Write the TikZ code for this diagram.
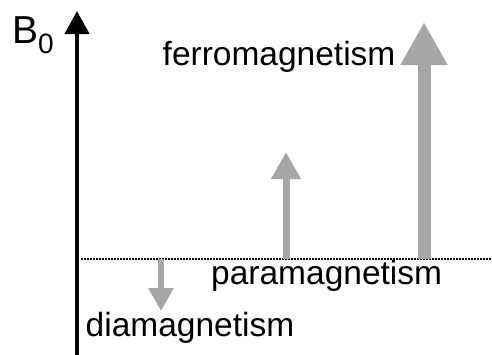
\documentclass[tikz,border=0pt]{standalone}
\usepackage{fontspec}
\setmainfont{Liberation Sans}
\usetikzlibrary{arrows.meta}
\definecolor{arrgray}{HTML}{A6A6A6}
\tikzset{
  lbl/.style={inner sep=0pt, anchor=base west, font=\fontsize{33.5}{36}\selectfont},
  axis/.style={line width=4.3pt, black, -{Triangle[width=24pt,length=23pt]}},
  field/.style={color=arrgray},
  zeroline/.style={line width=1.5pt, dash pattern=on 1.5pt off 1.5pt, black}
}
\begin{document}
\begin{tikzpicture}[x=1pt,y=-1pt]
\useasboundingbox (0,0) rectangle (492,354);
% axis
\coordinate (axb) at (77,356);
\coordinate (axt) at (77,11);
\draw[axis] (axb) -- (axt);
\node[lbl, font=\fontsize{39}{40}\selectfont] (B0) at (12,43) {B\raisebox{-10pt}{\fontsize{28}{28}\selectfont 0}};
% zero line
\coordinate (zl) at (81,259);
\coordinate (zr) at (492,259);
\draw[zeroline] (zl) -- (zr);
% diamagnetism
\coordinate (d0) at (161,259);
\coordinate (d1) at (161,311);
\draw[field, line width=6pt, -{Triangle[width=24pt,length=23pt]}] (d0) -- (d1);
\node[lbl] (dia) at (85.5,336.5) {diamagnetism};
% paramagnetism
\coordinate (p0) at (286,259);
\coordinate (p1) at (286,152);
\draw[field, line width=7pt, -{Triangle[width=28pt,length=27pt]}] (p0) -- (p1);
\node[lbl] (para) at (211,284) {paramagnetism};
% ferromagnetism
\coordinate (f0) at (424,259);
\coordinate (f1) at (424,22);
\draw[field, line width=13pt, -{Triangle[width=44pt,length=43pt]}] (f0) -- (f1);
\node[lbl] (ferro) at (162.5,65) {ferromagnetism};
\end{tikzpicture}
\end{document}
